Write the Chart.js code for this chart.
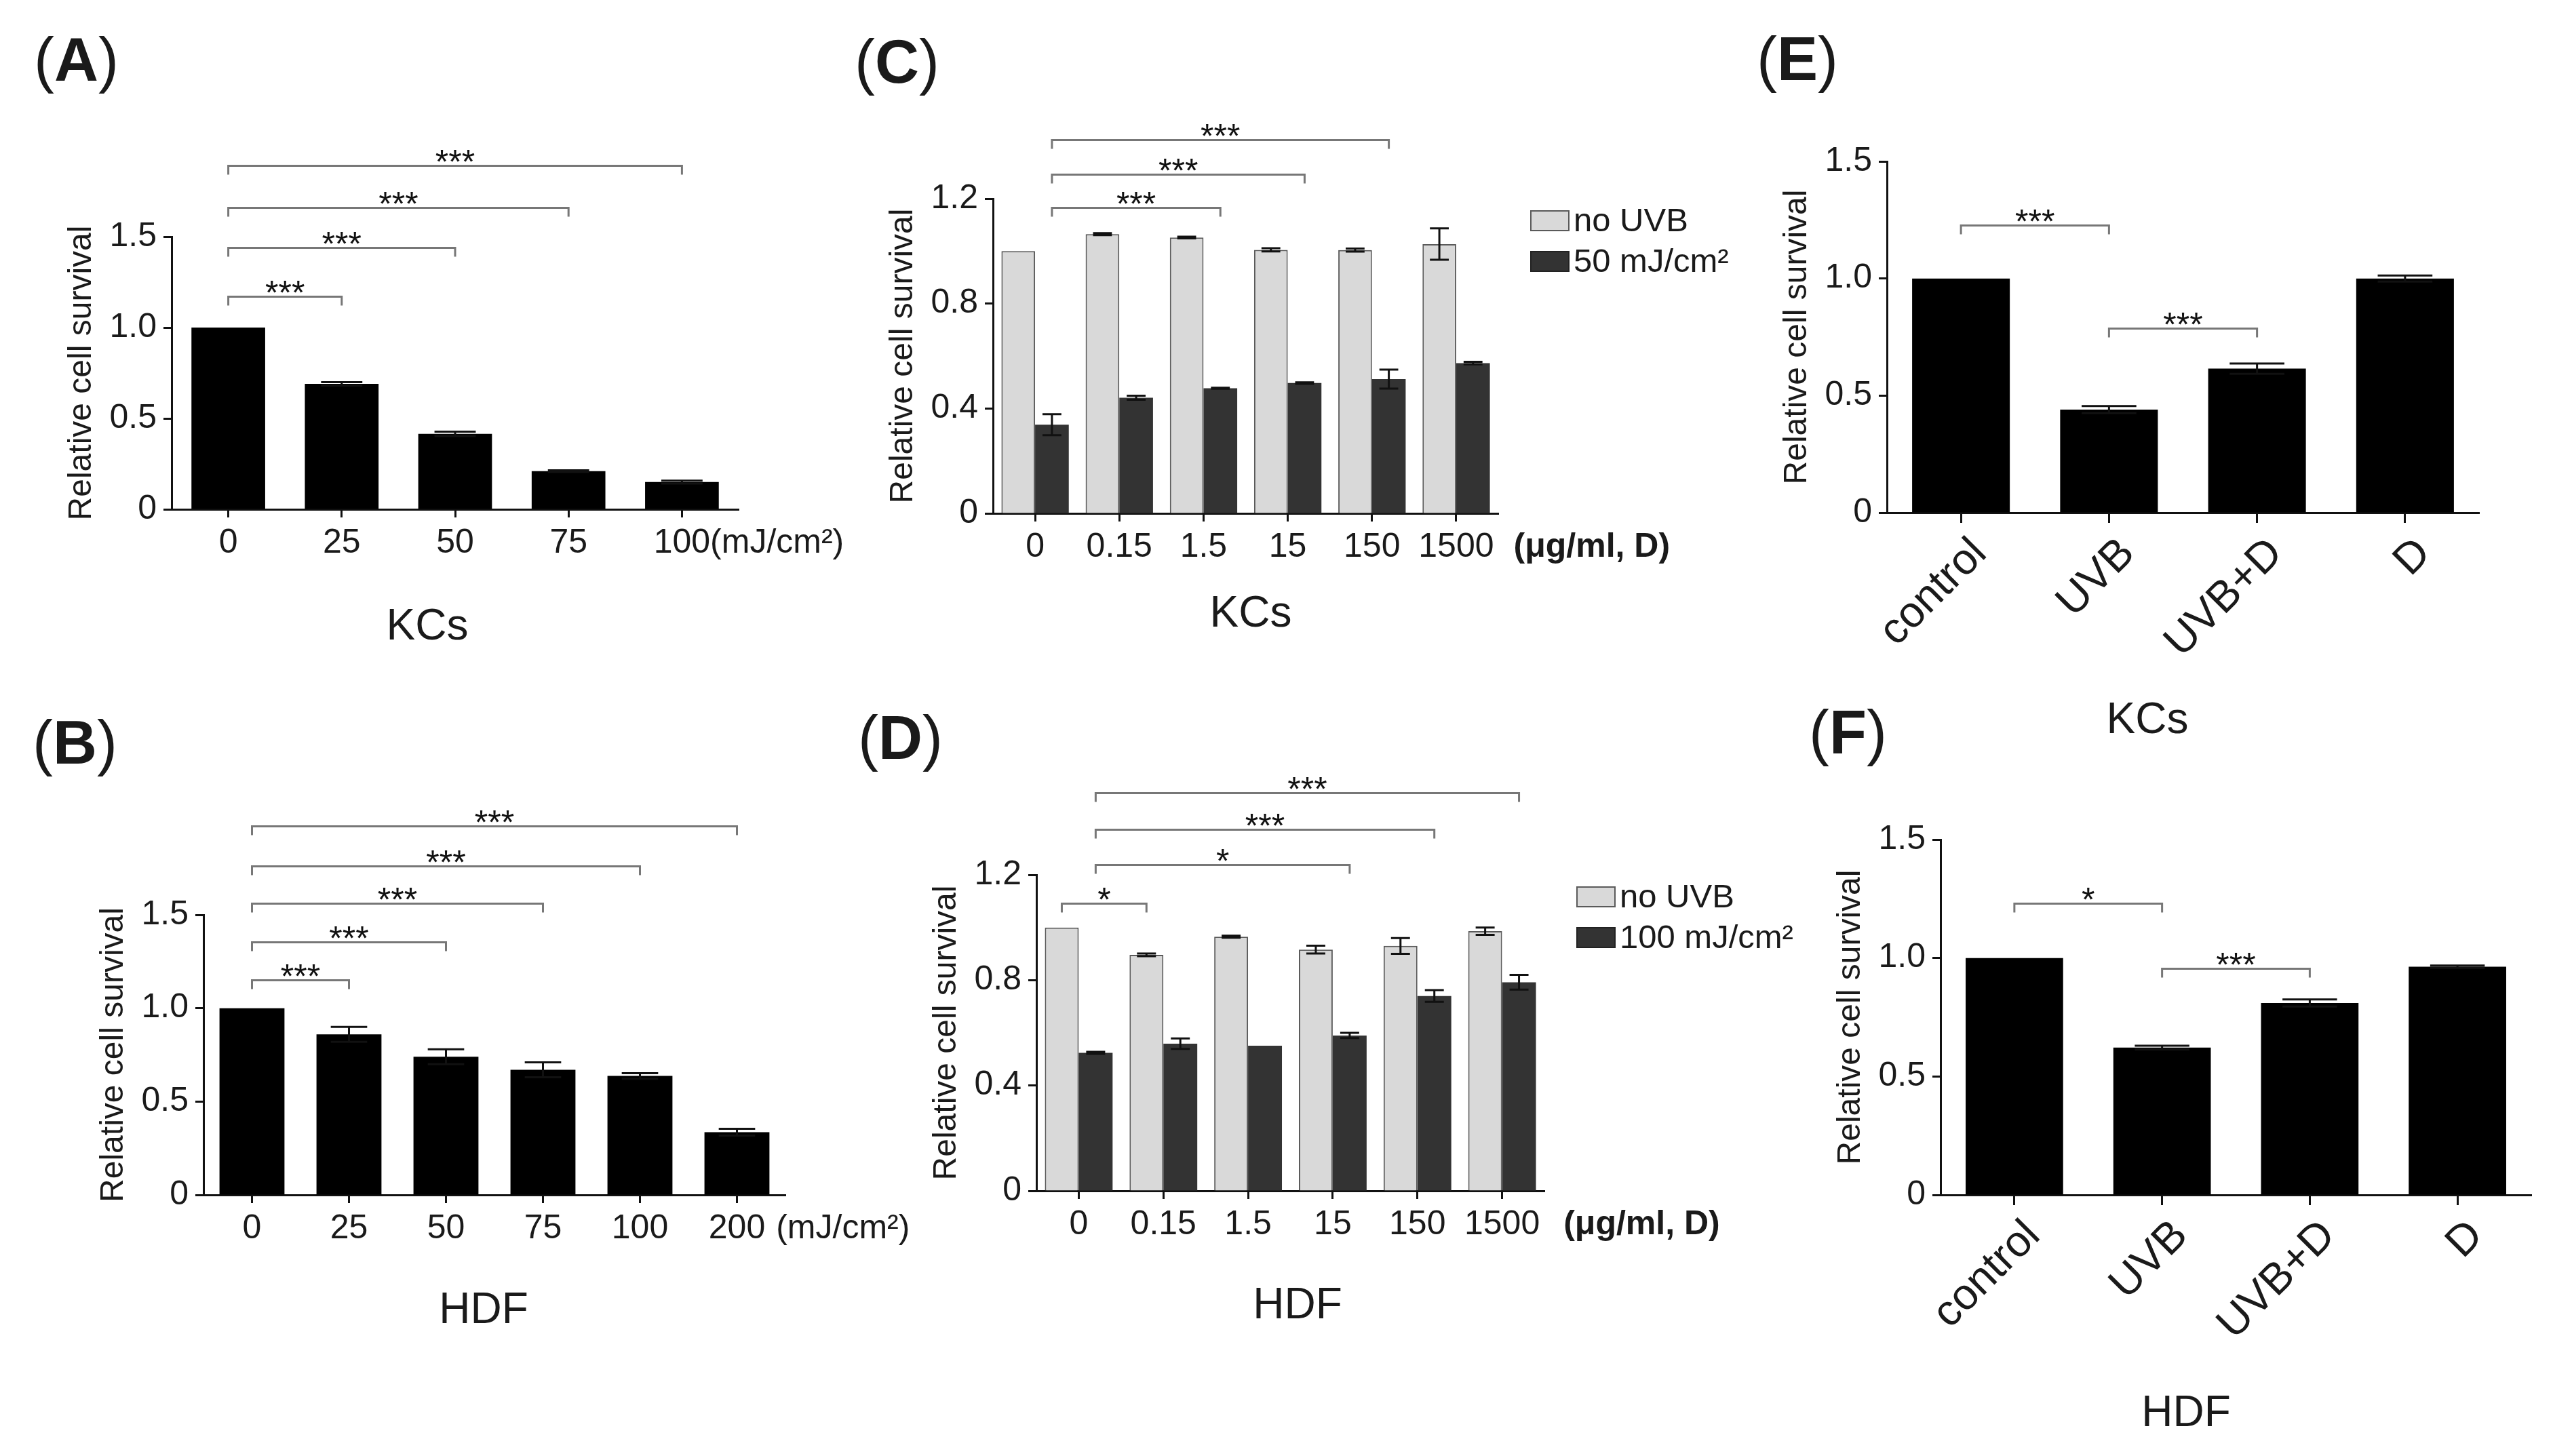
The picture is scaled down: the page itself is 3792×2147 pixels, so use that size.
<!DOCTYPE html>
<html>
<head>
<meta charset="utf-8">
<script src="https://cdn.jsdelivr.net/npm/chart.js@4.4.1/dist/chart.umd.min.js"></script>
<style>
  html, body { margin: 0; padding: 0; background: #fff; }
  #page { position: relative; width: 3792px; height: 2147px; overflow: hidden;
          font-family: "Liberation Sans", Arial, sans-serif; color: #1a1a1a; }
  #page canvas { position: absolute; }
  .tag { position: absolute; font-size: 90px; line-height: 1; white-space: nowrap; }
  .tag b { font-weight: bold; }
  .sub { position: absolute; font-size: 64px; line-height: 1; white-space: nowrap; transform: translateX(-50%); }
</style>
</head>
<body>
<div id="page">
  <div class="tag" style="left:50px;top:43px">(<b>A</b>)</div>
  <div class="tag" style="left:48px;top:1050px">(<b>B</b>)</div>
  <div class="tag" style="left:1260px;top:46px">(<b>C</b>)</div>
  <div class="tag" style="left:1265px;top:1043px">(<b>D</b>)</div>
  <div class="tag" style="left:2590px;top:42px">(<b>E</b>)</div>
  <div class="tag" style="left:2667px;top:1035px">(<b>F</b>)</div>

  <div class="sub" style="left:630px;top:889px">KCs</div>
  <div class="sub" style="left:713px;top:1897px">HDF</div>
  <div class="sub" style="left:1844px;top:870px">KCs</div>
  <div class="sub" style="left:1913px;top:1890px">HDF</div>
  <div class="sub" style="left:3166px;top:1027px">KCs</div>
  <div class="sub" style="left:3223px;top:2049px">HDF</div>

  <canvas id="chartA"></canvas>
  <canvas id="chartB"></canvas>
  <canvas id="chartC"></canvas>
  <canvas id="chartD"></canvas>
  <canvas id="chartE"></canvas>
  <canvas id="chartF"></canvas>
</div>

<script>
const FONT = '"Liberation Sans", Arial, sans-serif';
const INK = '#1a1a1a';

// ---------- data ----------
// (A) KCs, UVB dose
const doseA = ['0', '25', '50', '75', '100'];
const survivalA = [1.0, 0.69, 0.415, 0.21, 0.15];
const errA = [0, 0.01, 0.012, 0.005, 0.008];

// (B) HDF, UVB dose
const doseB = ['0', '25', '50', '75', '100', '200'];
const survivalB = [1.0, 0.86, 0.74, 0.67, 0.637, 0.336];
const errB = [0, 0.04, 0.04, 0.04, 0.015, 0.018];

// (C) KCs, D concentration
const concC = ['0', '0.15', '1.5', '15', '150', '1500'];
const noUvbC = [1.0, 1.065, 1.052, 1.005, 1.004, 1.027];
const noUvbErrC = [0, 0.004, 0.003, 0.006, 0.006, 0.06];
const uvbC = [0.338, 0.441, 0.477, 0.497, 0.512, 0.573];
const uvbErrC = [0.04, 0.008, 0.002, 0.003, 0.036, 0.005];

// (D) HDF, D concentration
const concD = ['0', '0.15', '1.5', '15', '150', '1500'];
const noUvbD = [1.0, 0.896, 0.965, 0.916, 0.93, 0.986];
const noUvbErrD = [0, 0.005, 0.004, 0.015, 0.03, 0.014];
const uvbD = [0.524, 0.559, 0.551, 0.59, 0.74, 0.792];
const uvbErrD = [0.004, 0.02, 0, 0.01, 0.022, 0.028];

// (E) KCs, treatments / (F) HDF, treatments
const groups = ['control', 'UVB', 'UVB+D', 'D'];
const survivalE = [1.0, 0.44, 0.615, 1.0];
const errE = [0, 0.015, 0.022, 0.013];
const survivalF = [1.0, 0.622, 0.81, 0.963];
const errF = [0, 0.008, 0.015, 0.005];

// y ticks
const yTicks15 = [0, 0.5, 1.0, 1.5];
const yLabels15 = ['0', '0.5', '1.0', '1.5'];
const yTicks12 = [0, 0.4, 0.8, 1.2];
const yLabels12 = ['0', '0.4', '0.8', '1.2'];

// significance brackets: [datasetIndex, barIndex] pairs, level in y units
const sigFromA = [[0, 0], [0, 0], [0, 0], [0, 0]];
const sigToA = [[0, 1], [0, 2], [0, 3], [0, 4]];
const sigLevelA = [1.17, 1.44, 1.66, 1.89];
const sigMarkA = ['***', '***', '***', '***'];

const sigFromB = [[0, 0], [0, 0], [0, 0], [0, 0], [0, 0]];
const sigToB = [[0, 1], [0, 2], [0, 3], [0, 4], [0, 5]];
const sigLevelB = [1.153, 1.354, 1.562, 1.762, 1.977];
const sigMarkB = ['***', '***', '***', '***', '***'];

const sigFromC = [[1, 0], [1, 0], [1, 0]];
const sigToC = [[1, 2], [1, 3], [1, 4]];
const sigLevelC = [1.167, 1.292, 1.426];
const sigMarkC = ['***', '***', '***'];

const sigFromD = [[0, 0], [1, 0], [1, 0], [1, 0]];
const sigToD = [[0, 1], [1, 3], [1, 4], [1, 5]];
const sigLevelD = [1.093, 1.238, 1.372, 1.511];
const sigMarkD = ['*', '*', '***', '***'];

const sigFromE = [[0, 0], [0, 1]];
const sigToE = [[0, 1], [0, 2]];
const sigLevelE = [1.229, 0.788];
const sigMarkE = ['***', '***'];

const sigFromF = [[0, 0], [0, 1]];
const sigToF = [[0, 1], [0, 2]];
const sigLevelF = [1.231, 0.957];
const sigMarkF = ['*', '***'];

// ---------- plugin: error bars, brackets, unit text, legend ----------
const extras = {
  id: 'extras',
  afterDatasetsDraw(chart, args, opts) {
    const ctx = chart.ctx;
    const y = chart.scales.y;
    ctx.save();
    ctx.lineCap = 'butt';

    // error bars
    (opts.err || []).forEach((errs, d) => {
      const vals = chart.data.datasets[d].data;
      chart.getDatasetMeta(d).data.forEach((bar, i) => {
        const e = errs[i];
        if (!e) return;
        const cap = bar.width * 0.28;
        const yt = y.getPixelForValue(vals[i] + e);
        const yb = y.getPixelForValue(vals[i] - e);
        ctx.strokeStyle = '#111';
        ctx.lineWidth = 3;
        ctx.beginPath();
        ctx.moveTo(bar.x, yb); ctx.lineTo(bar.x, yt);
        ctx.moveTo(bar.x - cap, yt); ctx.lineTo(bar.x + cap, yt);
        ctx.moveTo(bar.x - cap, yb); ctx.lineTo(bar.x + cap, yb);
        ctx.stroke();
      });
    });

    // significance brackets
    const sig = opts.sig;
    if (sig) {
      ctx.strokeStyle = '#777';
      ctx.lineWidth = 3;
      ctx.fillStyle = '#111';
      ctx.font = '50px ' + FONT;
      ctx.textAlign = 'center';
      ctx.textBaseline = 'alphabetic';
      sig.level.forEach((v, k) => {
        const a = chart.getDatasetMeta(sig.from[k][0]).data[sig.from[k][1]];
        const b = chart.getDatasetMeta(sig.to[k][0]).data[sig.to[k][1]];
        const py = Math.round(y.getPixelForValue(v)) + 0.5;
        ctx.beginPath();
        ctx.moveTo(a.x, py + 13); ctx.lineTo(a.x, py);
        ctx.lineTo(b.x, py); ctx.lineTo(b.x, py + 13);
        ctx.stroke();
        ctx.fillText(sig.mark[k], (a.x + b.x) / 2, py + 11);
      });
    }
    ctx.restore();
  },
  afterDraw(chart, args, opts) {
    const ctx = chart.ctx;
    const area = chart.chartArea;
    ctx.save();
    ctx.fillStyle = INK;

    // unit after the last x tick label
    if (opts.unit) {
      const labels = chart.data.labels;
      const n = labels.length;
      ctx.font = '50px ' + FONT;
      const lw = ctx.measureText(labels[n - 1]).width;
      ctx.font = (opts.unit.bold ? 'bold ' : '') + '50px ' + FONT;
      ctx.textAlign = 'left';
      ctx.textBaseline = 'middle';
      ctx.fillText(opts.unit.text, chart.scales.x.getPixelForTick(n - 1) + lw / 2 + opts.unit.gap,
                   area.bottom + 12 + 8 + 30);
    }

    // legend
    if (opts.legend) {
      chart.data.datasets.forEach((ds, k) => {
        const cy = area.top + 32 + k * 60;
        const bx = area.right + 48;
        ctx.fillStyle = ds.backgroundColor;
        ctx.fillRect(bx, cy - 14, 56, 29);
        ctx.strokeStyle = ds.borderColor || '#222';
        ctx.lineWidth = 2;
        ctx.strokeRect(bx, cy - 14, 56, 29);
        ctx.fillStyle = INK;
        ctx.font = '49px ' + FONT;
        ctx.textAlign = 'left';
        ctx.textBaseline = 'middle';
        ctx.fillText(ds.label, bx + 63, cy + 2);
      });
    }
    ctx.restore();
  }
};
Chart.register(extras);

// ---------- panel factory ----------
function makePanel(id, box, cfg) {
  const cv = document.getElementById(id);
  cv.width = box.w;
  cv.height = box.h;
  cv.style.left = box.x + 'px';
  cv.style.top = box.y + 'px';
  const yW = 161;
  const xH = cfg.rotate ? 220 : 90;

  return new Chart(cv, {
    type: 'bar',
    data: { labels: cfg.labels, datasets: cfg.datasets },
    options: {
      responsive: false,
      animation: false,
      devicePixelRatio: 1,
      layout: {
        padding: {
          left: box.L - yW - box.x,
          top: box.T - box.y,
          right: box.x + box.w - box.R,
          bottom: box.y + box.h - box.B - xH
        }
      },
      plugins: {
        legend: { display: false },
        tooltip: { enabled: false },
        extras: cfg.extras
      },
      scales: {
        x: {
          offset: true,
          grid: { drawOnChartArea: false, drawTicks: true, tickLength: cfg.rotate ? 15 : 12, tickWidth: 3,
                  tickColor: '#111', offset: false },
          border: { display: true, color: '#111', width: 3 },
          ticks: {
            color: INK,
            font: { size: cfg.rotate ? 64 : 50, family: FONT },
            padding: 8,
            autoSkip: false,
            labelOffset: cfg.rotate ? 28 : 0,
            maxRotation: cfg.rotate ? 45 : 0,
            minRotation: cfg.rotate ? 45 : 0
          },
          afterFit(s) { s.height = xH; }
        },
        y: {
          min: 0,
          max: cfg.yTicks[cfg.yTicks.length - 1],
          afterBuildTicks(s) { s.ticks = cfg.yTicks.map(v => ({ value: v })); },
          grid: { drawOnChartArea: false, tickLength: 12, tickWidth: 3, tickColor: '#111' },
          border: { display: true, color: '#111', width: 3 },
          ticks: {
            color: INK,
            font: { size: 50, family: FONT },
            padding: 10,
            callback: v => cfg.yLabels[cfg.yTicks.indexOf(v)]
          },
          title: { display: true, text: 'Relative cell survival', color: INK,
                   font: { size: 48, family: FONT }, padding: 0 },
          afterFit(s) { s.width = yW; }
        }
      }
    }
  });
}

function blackBars(label, data, pct) {
  return { label: label, data: data, backgroundColor: '#000', borderWidth: 0,
           barPercentage: pct, categoryPercentage: 1 };
}
function pairBars(noLabel, noData, uvLabel, uvData) {
  return [
    { label: noLabel, data: noData, backgroundColor: '#d9d9d9', borderColor: '#5a5a5a',
      borderWidth: 2, barPercentage: 1, categoryPercentage: 0.8 },
    { label: uvLabel, data: uvData, backgroundColor: '#333333', borderColor: '#222',
      borderWidth: 0, barPercentage: 1, categoryPercentage: 0.8 }
  ];
}

makePanel('chartA', { x: 0, y: 150, w: 1270, h: 850, L: 253, T: 349, R: 1089, B: 751 }, {
  labels: doseA,
  datasets: [blackBars('KCs', survivalA, 0.65)],
  yTicks: yTicks15, yLabels: yLabels15,
  extras: { err: [errA], sig: { from: sigFromA, to: sigToA, level: sigLevelA, mark: sigMarkA },
            unit: { text: '(mJ/cm²)', gap: 0, bold: false } }
});

makePanel('chartB', { x: 0, y: 1150, w: 1400, h: 997, L: 300, T: 1349, R: 1158, B: 1762 }, {
  labels: doseB,
  datasets: [blackBars('HDF', survivalB, 0.67)],
  yTicks: yTicks15, yLabels: yLabels15,
  extras: { err: [errB], sig: { from: sigFromB, to: sigToB, level: sigLevelB, mark: sigMarkB },
            unit: { text: '(mJ/cm²)', gap: 16, bold: false } }
});

makePanel('chartC', { x: 1270, y: 120, w: 1290, h: 860, L: 1464, T: 293, R: 2209, B: 757 }, {
  labels: concC,
  datasets: pairBars('no UVB', noUvbC, '50 mJ/cm²', uvbC),
  yTicks: yTicks12, yLabels: yLabels12,
  extras: { err: [noUvbErrC, uvbErrC], sig: { from: sigFromC, to: sigToC, level: sigLevelC, mark: sigMarkC },
            unit: { text: '(μg/ml, D)', gap: 29, bold: true }, legend: true }
});

makePanel('chartD', { x: 1270, y: 1130, w: 1420, h: 860, L: 1528, T: 1290, R: 2277, B: 1756 }, {
  labels: concD,
  datasets: pairBars('no UVB', noUvbD, '100 mJ/cm²', uvbD),
  yTicks: yTicks12, yLabels: yLabels12,
  extras: { err: [noUvbErrD, uvbErrD], sig: { from: sigFromD, to: sigToD, level: sigLevelD, mark: sigMarkD },
            unit: { text: '(μg/ml, D)', gap: 35, bold: true }, legend: true }
});

makePanel('chartE', { x: 2560, y: 100, w: 1232, h: 920, L: 2782, T: 238, R: 3655, B: 756 }, {
  labels: groups,
  datasets: [blackBars('KCs', survivalE, 0.66)],
  yTicks: yTicks15, yLabels: yLabels15, rotate: true,
  extras: { err: [errE], sig: { from: sigFromE, to: sigToE, level: sigLevelE, mark: sigMarkE } }
});

makePanel('chartF', { x: 2600, y: 1130, w: 1192, h: 1017, L: 2861, T: 1238, R: 3732, B: 1762 }, {
  labels: groups,
  datasets: [blackBars('HDF', survivalF, 0.66)],
  yTicks: yTicks15, yLabels: yLabels15, rotate: true,
  extras: { err: [errF], sig: { from: sigFromF, to: sigToF, level: sigLevelF, mark: sigMarkF } }
});
</script>
</body>
</html>
